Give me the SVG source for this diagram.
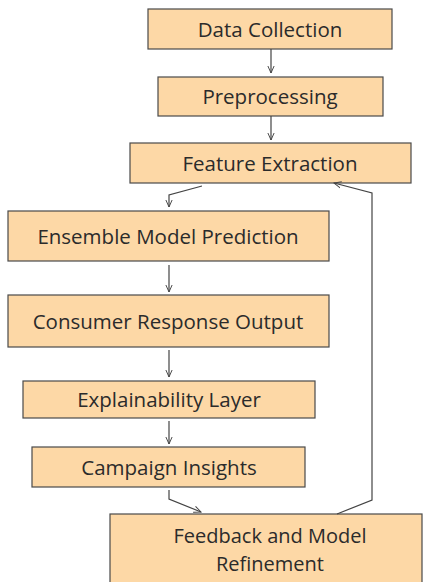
<svg xmlns="http://www.w3.org/2000/svg" width="425" height="582" viewBox="0 0 425 582">
<style>
.box{fill:#fdd8a6;stroke:#4a4a4a;stroke-width:1.2}
.lbl{font-family:"Open Sans","Liberation Sans",sans-serif;font-size:20.5px;fill:#2b2b2b;text-anchor:middle;dominant-baseline:central}
.edge{fill:none;stroke:#444;stroke-width:1.2}
</style>
<defs>
<marker id="ah" viewBox="0 0 10 10" refX="9" refY="5" markerWidth="8" markerHeight="8" orient="auto" markerUnits="userSpaceOnUse">
<path d="M0,1 L9,5 L0,9" fill="none" stroke="#444" stroke-width="1.2"/>
</marker>
</defs>
<rect width="425" height="582" fill="#fff"/>
<g id="data-collection"><rect class="box" x="148" y="9" width="244" height="40"/><text class="lbl" x="270" y="29">Data Collection</text></g>
<g id="preprocessing"><rect class="box" x="158" y="77" width="225" height="39"/><text class="lbl" x="270" y="96">Preprocessing</text></g>
<g id="feature-extraction"><rect class="box" x="130" y="143" width="281" height="40"/><text class="lbl" x="270" y="163">Feature Extraction</text></g>
<g id="ensemble"><rect class="box" x="8" y="211" width="321" height="50"/><text class="lbl" x="168" y="236">Ensemble Model Prediction</text></g>
<g id="consumer"><rect class="box" x="8" y="295" width="321" height="52"/><text class="lbl" x="168" y="321">Consumer Response Output</text></g>
<g id="explainability"><rect class="box" x="23" y="381" width="292" height="37"/><text class="lbl" x="169" y="399">Explainability Layer</text></g>
<g id="campaign"><rect class="box" x="32" y="447" width="273" height="40"/><text class="lbl" x="169" y="467">Campaign Insights</text></g>
<g id="feedback"><rect class="box" x="110" y="514" width="312" height="80"/><text class="lbl" x="270" y="535.5" style="font-size:20px">Feedback and Model</text><text class="lbl" x="270" y="563" style="font-size:20px">Refinement</text></g>
<g id="connectors">
<path class="edge" marker-end="url(#ah)" d="M271,49 L271,73"/>
<path class="edge" marker-end="url(#ah)" d="M271,116 L271,140"/>
<path class="edge" marker-end="url(#ah)" d="M202,186 L169,195 L169,207"/>
<path class="edge" marker-end="url(#ah)" d="M169,265 L169,292"/>
<path class="edge" marker-end="url(#ah)" d="M169,350 L169,377"/>
<path class="edge" marker-end="url(#ah)" d="M169,421 L169,444"/>
<path class="edge" marker-end="url(#ah)" d="M169,490 L169,499 L201,512"/>
<path class="edge" marker-end="url(#ah)" d="M337,514 L372,500 L372,193 L334,183"/>
</g>
</svg>
